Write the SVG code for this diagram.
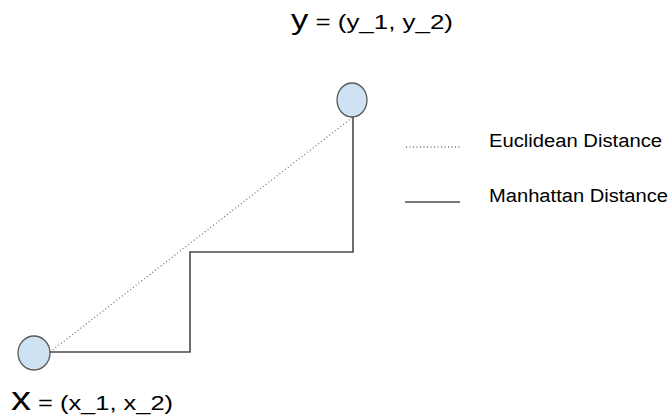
<svg xmlns="http://www.w3.org/2000/svg" width="669" height="419" viewBox="0 0 669 419">
<style>
.pt{fill:#cfe2f3;stroke:#595959;stroke-width:1.3}
.man{fill:none;stroke:#4a4a4a;stroke-width:1.6}
.euc{fill:none;stroke:#777;stroke-width:1.3;stroke-dasharray:1 2.5}
text{font-family:"Liberation Sans",Arial,sans-serif;fill:#000}
.bigy{font-size:28px}
.bigx{font-size:33px}
.sm{font-size:21px}
.leg{font-size:18px}
</style>
<rect width="669" height="419" fill="#fff"/>
<g id="connectors">
<path class="euc" d="M50 352 L353 117"/>
<path class="man" d="M50 352 H190 V252 H353 V117"/>
</g>
<g id="node-x">
<ellipse class="pt" cx="34" cy="353" rx="16" ry="17"/>
<text x="11" y="410" textLength="162" lengthAdjust="spacingAndGlyphs"><tspan class="bigx">x</tspan><tspan class="sm"> = (x_1, x_2)</tspan></text>
</g>
<g id="node-y">
<ellipse class="pt" cx="352" cy="100" rx="15" ry="17"/>
<text x="291" y="29" textLength="162" lengthAdjust="spacingAndGlyphs"><tspan class="bigy">y</tspan><tspan class="sm"> = (y_1, y_2)</tspan></text>
</g>
<g id="legend">
<path class="euc" d="M406 147 H460"/>
<text class="leg" x="489" y="147" textLength="173" lengthAdjust="spacingAndGlyphs">Euclidean Distance</text>
<path class="man" d="M405 202 H460"/>
<text class="leg" x="489" y="202" textLength="179" lengthAdjust="spacingAndGlyphs">Manhattan Distance</text>
</g>
</svg>
